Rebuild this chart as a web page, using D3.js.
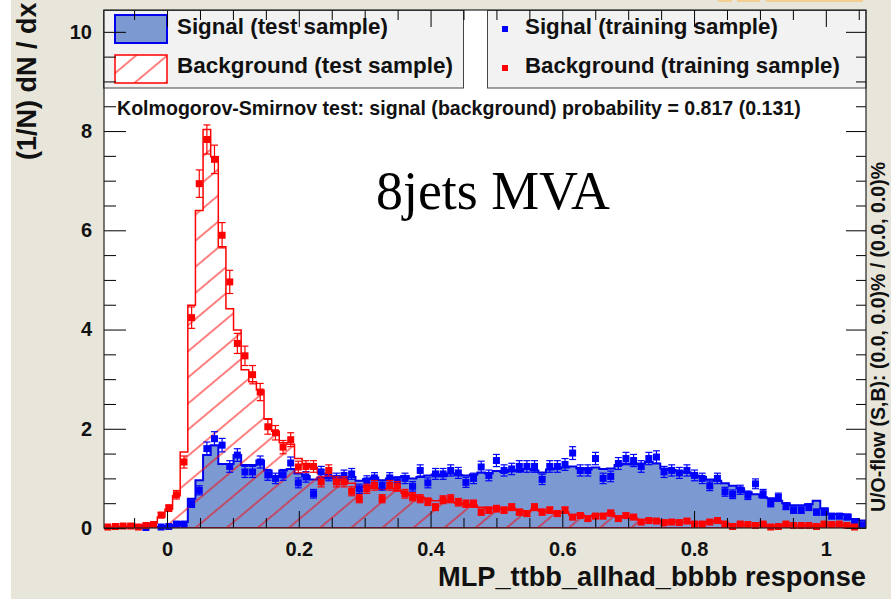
<!DOCTYPE html>
<html><head><meta charset="utf-8">
<script src="https://cdn.jsdelivr.net/npm/d3@7"></script>
<style>body{margin:0;background:#e8e6da;} svg{display:block;}</style>
</head><body>
<svg id="c" width="891" height="599"></svg>
<script>
// ---------------- data ----------------
const xMin = -0.0957, xMax = 1.061, nBins = 100;
const yMax = 10.44;
const sigTest = [0,0,0,0,0,0.01,0.01,0.02,0.04,0.06,
0.12,0.59,0.96,1.47,1.67,1.29,1.29,1.47,1.27,1.27,
1.36,1.16,1.03,1.16,1.19,1.10,1.05,0.98,1.02,1.00,
1.04,0.97,1.03,0.95,0.99,1.02,0.96,1.00,1.02,1.05,
1.00,1.03,1.06,1.08,1.05,1.10,1.07,1.06,1.08,1.12,
1.10,1.15,1.13,1.17,1.15,1.19,1.16,1.12,1.18,1.20,
1.22,1.24,1.20,1.18,1.22,1.19,1.20,1.27,1.30,1.28,
1.30,1.33,1.30,1.20,1.17,1.14,1.12,1.06,1.03,0.98,
0.95,0.90,0.85,0.80,0.72,0.68,0.62,0.60,0.55,0.50,
0.46,0.46,0.48,0.55,0.40,0.28,0.28,0.27,0.18,0.15];
const bkgTest = [0.02,0.02,0.03,0.03,0.04,0.06,0.10,0.22,0.38,0.65,
1.53,4.49,6.40,8.03,7.48,5.67,4.42,3.99,3.19,2.95,
2.78,2.20,1.95,1.72,1.69,1.40,1.30,1.22,1.10,1.05,
1.00,0.95,0.90,0.82,0.85,0.80,0.78,0.80,0.75,0.70,
0.66,0.62,0.58,0.55,0.56,0.52,0.50,0.48,0.46,0.42,
0.40,0.40,0.38,0.40,0.36,0.33,0.38,0.34,0.33,0.30,
0.32,0.26,0.27,0.23,0.26,0.26,0.30,0.22,0.24,0.20,
0.16,0.16,0.15,0.12,0.13,0.12,0.12,0.10,0.10,0.12,
0.14,0.09,0.06,0.07,0.06,0.06,0.07,0.04,0.05,0.07,
0.05,0.05,0.05,0.04,0.06,0.06,0.07,0.05,0.03,0.01];
const sigTrain = [0,0,0,0,0,0.01,0,0.02,0.03,0.08,
0.08,0.49,0.76,1.60,1.80,1.67,1.24,1.47,1.13,1.13,
1.33,1.07,1.00,1.07,1.31,0.91,1.03,0.69,1.13,1.06,
1.00,1.06,1.09,0.79,0.95,1.01,0.86,1.01,0.93,1.00,
0.84,1.16,0.91,1.09,1.09,1.16,1.11,0.92,1.00,1.23,
1.06,1.36,1.16,1.19,1.24,1.24,1.24,0.98,1.24,1.24,
1.28,1.51,1.16,1.16,1.40,1.00,1.04,1.30,1.40,1.36,
1.24,1.40,1.43,1.13,1.16,1.11,1.16,1.06,1.00,0.85,
1.00,0.73,0.68,0.77,0.66,0.89,0.69,0.50,0.62,0.44,
0.36,0.36,0.42,0.32,0.32,0.24,0.24,0.22,0.09,0.06];
const bkgTrain = [0.02,0.03,0.04,0.04,0.02,0.05,0.07,0.26,0.40,0.67,
1.33,4.24,6.94,7.83,7.43,5.90,4.96,3.72,3.47,3.09,
2.74,2.04,1.92,1.63,1.78,1.23,1.24,1.24,0.93,1.16,
0.93,0.93,0.74,0.59,0.79,0.86,0.59,0.86,0.84,0.69,
0.63,0.59,0.53,0.42,0.57,0.59,0.52,0.49,0.49,0.32,
0.36,0.39,0.36,0.42,0.32,0.29,0.42,0.32,0.36,0.29,
0.36,0.22,0.25,0.19,0.24,0.24,0.30,0.19,0.25,0.22,
0.12,0.15,0.14,0.11,0.12,0.11,0.14,0.08,0.08,0.12,
0.15,0.08,0.03,0.08,0.07,0.05,0.08,0.02,0.03,0.08,
0.05,0.05,0.05,0.03,0.08,0.07,0.08,0.05,0.02,0];
const xTicks = [0, 0.2, 0.4, 0.6, 0.8, 1];
const xTickLabels = ["0", "0.2", "0.4", "0.6", "0.8", "1"];
const yTicks = [0, 2, 4, 6, 8, 10];
const yTickLabels = ["0", "2", "4", "6", "8", "10"];
const legendLeft = ["Signal (test sample)", "Background (test sample)"];
const legendRight = ["Signal (training sample)", "Background (training sample)"];
const ksText = "Kolmogorov-Smirnov test: signal (background) probability = 0.817 (0.131)";
const xTitle = "MLP_ttbb_allhad_bbbb response";
const yTitle = "(1/N) dN / dx";
const overflowText = "U/O-flow (S,B): (0.0, 0.0)% / (0.0, 0.0)%";
const label = "8jets MVA";

// ---------------- layout ----------------
const L = 104, R = 866, T = 10, B = 528;
const SIG_FILL = "#7d99d1", SIG_LINE = "#0000ee", BKG = "#ff0000";
const FONT = "'Liberation Sans', Arial, Helvetica, sans-serif";

const svg = d3.select("#c");
const x = d3.scaleLinear().domain([xMin, xMax]).range([L, R]);
const y = d3.scaleLinear().domain([0, yMax]).range([B, T]);
const edges = d3.range(nBins + 1).map(i => xMin + i * (xMax - xMin) / nBins);
const centers = d3.range(nBins).map(i => (edges[i] + edges[i + 1]) / 2);

function fit(sel, w) {
  const n = sel.node();
  const cur = n.getComputedTextLength();
  const fs = parseFloat(sel.attr("font-size"));
  sel.attr("font-size", (fs * w / cur).toFixed(2));
  return sel;
}

// backgrounds
svg.append("rect").attr("width", 891).attr("height", 599).attr("fill", "#e8e6da");
svg.append("rect").attr("x", 0).attr("y", 0).attr("width", 11).attr("height", 599).attr("fill", "#ffffff");
[[718, 732], [737, 760], [766, 863]].forEach(([a, b]) =>
  svg.append("rect").attr("x", a).attr("y", 0).attr("width", b - a).attr("height", 2).attr("fill", "#f3cf92"));
svg.append("rect").attr("x", L).attr("y", T).attr("width", R - L).attr("height", B - T).attr("fill", "#ffffff");

// hatch pattern
const defs = svg.append("defs");
const pat = defs.append("pattern").attr("id", "hatch").attr("patternUnits", "userSpaceOnUse")
  .attr("width", 20).attr("height", 20).attr("patternTransform", "rotate(-40)");
pat.append("line").attr("x1", -5).attr("y1", 10).attr("x2", 25).attr("y2", 10)
  .attr("stroke", BKG).attr("stroke-width", 1);
defs.append("clipPath").attr("id", "frameClip").append("rect")
  .attr("x", L).attr("y", T).attr("width", R - L).attr("height", B - T);

function stepData(vals) {
  const pts = vals.map((v, i) => ({ x: edges[i], v }));
  pts.push({ x: edges[nBins], v: vals[nBins - 1] });
  return pts;
}
const area = d3.area().curve(d3.curveStepAfter).x(d => x(d.x)).y0(y(0)).y1(d => y(d.v));
const plot = svg.append("g").attr("clip-path", "url(#frameClip)");

// signal test
plot.append("path").datum(stepData(sigTest)).attr("d", area)
  .attr("fill", SIG_FILL).attr("stroke", SIG_LINE).attr("stroke-width", 2);
// background test
plot.append("path").datum(stepData(bkgTest)).attr("d", area)
  .attr("fill", "url(#hatch)").attr("stroke", BKG).attr("stroke-width", 1.5);

// training markers
function markers(vals, color) {
  const g = svg.append("g");
  vals.forEach((v, i) => {
    if (v <= 0) return;
    const cx = x(centers[i]), cy = y(v);
    const e = 0.105 * Math.sqrt(v);
    const y1 = y(v + e), y2 = y(Math.max(0, v - e));
    g.append("line").attr("x1", cx).attr("x2", cx).attr("y1", y1).attr("y2", y2).attr("stroke", color).attr("stroke-width", 1.2);
    g.append("line").attr("x1", cx - 3.5).attr("x2", cx + 3.5).attr("y1", y1).attr("y2", y1).attr("stroke", color).attr("stroke-width", 1.2);
    g.append("line").attr("x1", cx - 3.5).attr("x2", cx + 3.5).attr("y1", y2).attr("y2", y2).attr("stroke", color).attr("stroke-width", 1.2);
    g.append("rect").attr("x", cx - 3.5).attr("y", cy - 3.5).attr("width", 7).attr("height", 7).attr("fill", color);
  });
}
markers(sigTrain, "#0000ff");
markers(bkgTrain, BKG);

// legends
svg.append("rect").attr("x", 103.5).attr("y", 10.5).attr("width", 360).attr("height", 77.5)
  .attr("fill", "#f2f2f2").attr("stroke", "#444").attr("stroke-width", 1);
svg.append("rect").attr("x", 487.5).attr("y", 10.5).attr("width", 378.5).attr("height", 77.5)
  .attr("fill", "#f2f2f2").attr("stroke", "#444").attr("stroke-width", 1);
svg.append("rect").attr("x", 115).attr("y", 15).attr("width", 52).attr("height", 28)
  .attr("fill", SIG_FILL).attr("stroke", SIG_LINE).attr("stroke-width", 2);
svg.append("rect").attr("x", 115).attr("y", 55).attr("width", 52).attr("height", 28)
  .attr("fill", "#ffffff").attr("stroke", "none");
svg.append("rect").attr("x", 115).attr("y", 55).attr("width", 52).attr("height", 28)
  .attr("fill", "url(#hatch)").attr("stroke", BKG).attr("stroke-width", 1.5);
svg.append("rect").attr("x", 502).attr("y", 26).attr("width", 6).attr("height", 6).attr("fill", "#0000ff");
svg.append("rect").attr("x", 502).attr("y", 65).attr("width", 6).attr("height", 6).attr("fill", BKG);

function txt(s, xx, yy, fs, anchor, w, family) {
  const t = svg.append("text").attr("x", xx).attr("y", yy).attr("font-family", family || FONT)
    .attr("font-weight", family ? "normal" : "bold").attr("font-size", fs)
    .attr("text-anchor", anchor || "start").attr("fill", "#111").text(s);
  if (w) fit(t, w);
  return t;
}
txt(legendLeft[0], 177, 34, 21, "start", 211);
txt(legendLeft[1], 177, 73, 21, "start", 276);
txt(legendRight[0], 525, 34, 21, "start", 253);
txt(legendRight[1], 525, 73, 21, "start", 315);
txt(ksText, 117, 115, 16, "start", 684);
txt(label, 376, 209, 50, "start", 234, "'Liberation Serif', 'Times New Roman', serif").attr("fill", "#000");

// axes
function styleAxis(g) {
  g.select(".domain").remove();
  g.selectAll(".tick line").attr("stroke", "#000").attr("stroke-width", 1);
  g.selectAll("text").attr("font-family", FONT).attr("font-weight", "bold").attr("fill", "#111");
}
const minorX = d3.range(-0.05, 1.06, 0.05).map(v => +v.toFixed(2)).filter(v => !xTicks.includes(v));
const minorY = d3.range(0.5, 10.4, 0.5).filter(v => !yTicks.includes(v));

svg.append("g").attr("transform", `translate(0,${B})`)
  .call(d3.axisBottom(x).tickValues(xTicks).tickSize(-17).tickPadding(14).tickFormat((d, i) => xTickLabels[i]))
  .call(styleAxis).selectAll("text").attr("font-size", 20);
svg.append("g").attr("transform", `translate(0,${B})`)
  .call(d3.axisBottom(x).tickValues(minorX).tickSize(-10).tickFormat("")).call(styleAxis);
svg.append("g").attr("transform", `translate(0,${T})`)
  .call(d3.axisTop(x).tickValues(xTicks).tickSize(-17).tickFormat("")).call(styleAxis);
svg.append("g").attr("transform", `translate(0,${T})`)
  .call(d3.axisTop(x).tickValues(minorX).tickSize(-10).tickFormat("")).call(styleAxis);

svg.append("g").attr("transform", `translate(${L},0)`)
  .call(d3.axisLeft(y).tickValues(yTicks).tickSize(-22).tickPadding(12).tickFormat((d, i) => yTickLabels[i]))
  .call(styleAxis).selectAll("text").attr("font-size", 20);
svg.append("g").attr("transform", `translate(${L},0)`)
  .call(d3.axisLeft(y).tickValues(minorY).tickSize(-12).tickFormat("")).call(styleAxis);
svg.append("g").attr("transform", `translate(${R},0)`)
  .call(d3.axisRight(y).tickValues(yTicks).tickSize(-20).tickFormat("")).call(styleAxis);
svg.append("g").attr("transform", `translate(${R},0)`)
  .call(d3.axisRight(y).tickValues(minorY).tickSize(-10).tickFormat("")).call(styleAxis);

// frame
svg.append("rect").attr("x", L).attr("y", T).attr("width", R - L).attr("height", B - T)
  .attr("fill", "none").attr("stroke", "#222").attr("stroke-width", 1.2);

// titles
txt(xTitle, 866, 586, 24, "end", 428);
svg.append("text").attr("transform", "translate(36,160) rotate(-90)")
  .attr("font-family", FONT).attr("font-weight", "bold").attr("font-size", 27).attr("fill", "#111").text(yTitle);
const ov = svg.append("text").attr("transform", "translate(885,512) rotate(-90)")
  .attr("font-family", FONT).attr("font-weight", "bold").attr("font-size", 16).attr("fill", "#111").text(overflowText);
fit(ov, 350);
</script>
</body></html>
